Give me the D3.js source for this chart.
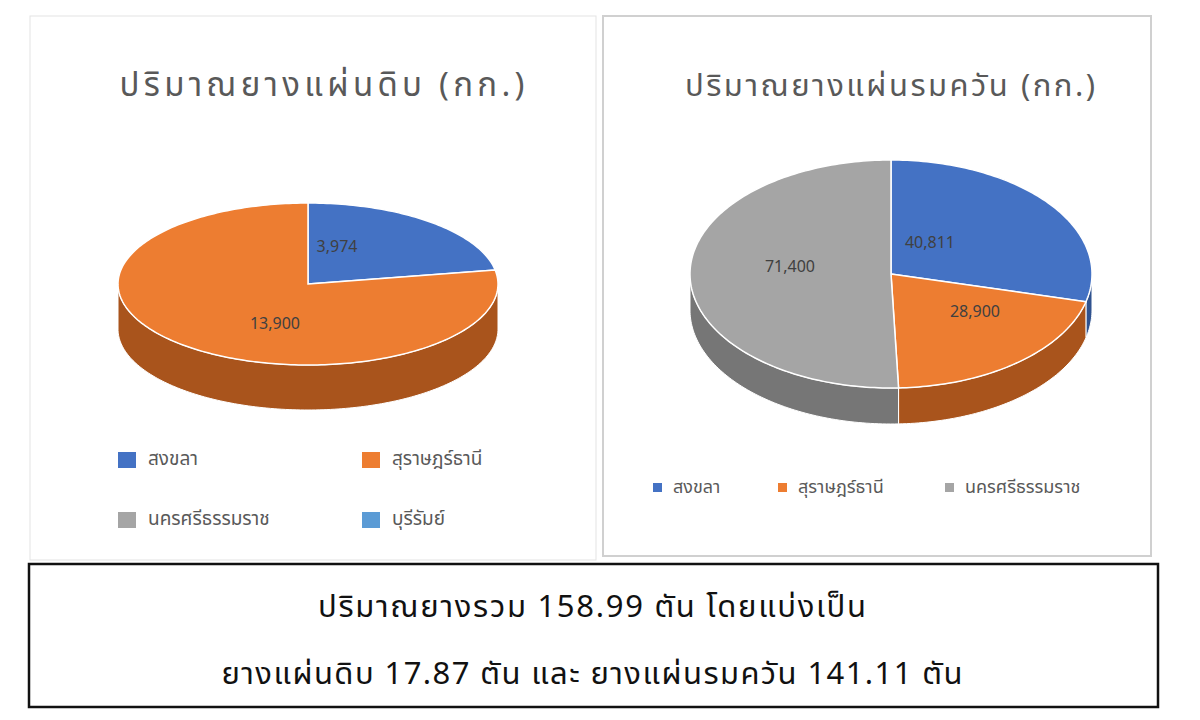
<!DOCTYPE html>
<html><head><meta charset="utf-8">
<script src="https://cdn.jsdelivr.net/npm/d3@7"></script>
<style>body{margin:0;background:#fff}</style></head>
<body><svg id="c" width="1200" height="720"></svg>
<script>
const leftCategories=["สงขลา","สุราษฎร์ธานี"];
const leftValues=[3974,13900];
const leftLegend=["สงขลา","สุราษฎร์ธานี","นครศรีธรรมราช","บุรีรัมย์"];
const rightCategories=["สงขลา","สุราษฎร์ธานี","นครศรีธรรมราช"];
const rightValues=[40811,28900,71400];
const titles=["ปริมาณยางแผ่นดิบ (กก.)","ปริมาณยางแผ่นรมควัน (กก.)"];
const summary=["ปริมาณยางรวม 158.99 ตัน โดยแบ่งเป็น","ยางแผ่นดิบ 17.87 ตัน และ ยางแผ่นรมควัน 141.11 ตัน"];

const colors=["#4472C4","#ED7D31","#A5A5A5","#5B9BD5"];
const sides=["#2F528F","#A9541C","#767676","#41719C"];
const F="'Noto Sans Thai','Noto Sans','Tahoma',sans-serif";
const svg=d3.select("#c");
svg.append("rect").attr("x",30).attr("y",16).attr("width",566).attr("height",544).attr("fill","#fff").attr("stroke","#e3e3e3");
svg.append("rect").attr("x",603).attr("y",16).attr("width",548).attr("height",540).attr("fill","#fff").attr("stroke","#d0d0d0").attr("stroke-width",2);

function pie3d(vals,cx,cy,rx,ry,dep,labels){
  const arcs=d3.pie().sort(null)(vals);
  const g=svg.append("g");
  const pt=(a,dy=0)=>[cx+rx*Math.sin(a),cy-ry*Math.cos(a)+dy];
  const samp=(a0,a1)=>{const n=Math.max(2,Math.ceil((a1-a0)/0.02));return d3.range(n+1).map(i=>a0+(a1-a0)*i/n);};
  arcs.forEach((d,i)=>{
    const a0=Math.max(d.startAngle,Math.PI/2),a1=Math.min(d.endAngle,3*Math.PI/2);
    if(a1<=a0)return;
    const s=samp(a0,a1);
    const p=s.map(a=>pt(a)).concat(s.slice().reverse().map(a=>pt(a,dep)));
    g.append("path").attr("d",d3.line()(p)+"Z").attr("fill",sides[i]).attr("stroke","#fff").attr("stroke-width",1);
  });
  arcs.forEach((d,i)=>{
    const s=samp(d.startAngle,d.endAngle);
    const p=[[cx,cy]].concat(s.map(a=>pt(a)));
    g.append("path").attr("d",d3.line()(p)+"Z").attr("fill",colors[i]).attr("stroke","#fff").attr("stroke-width",1.5);
  });
  arcs.forEach((d,i)=>{
    const l=labels[i];
    g.append("text").attr("x",l[0]).attr("y",l[1]).attr("text-anchor","middle").attr("dominant-baseline","middle")
      .attr("font-family",F).attr("font-size",16).attr("fill","#404040").text(d3.format(",")(d.value));
  });
}
pie3d(leftValues,308,284,190,81,45,[[337,248],[275,325]]);
pie3d(rightValues,891,274,201,114,36,[[930,244],[975,313],[790,268]]);

svg.append("text").attr("x",322).attr("y",96).attr("text-anchor","middle").attr("font-family",F).attr("font-size",33).attr("fill","#595959")
  .attr("textLength",405).attr("lengthAdjust","spacing").text(titles[0]);
svg.append("text").attr("x",890).attr("y",96).attr("text-anchor","middle").attr("font-family",F).attr("font-size",31).attr("fill","#595959")
  .attr("textLength",410).attr("lengthAdjust","spacing").text(titles[1]);

const lpos=[[118,460],[362,460],[118,520],[362,520]];
leftLegend.forEach((t,i)=>{
  svg.append("rect").attr("x",lpos[i][0]).attr("y",lpos[i][1]-8).attr("width",18).attr("height",16).attr("fill",colors[i]);
  svg.append("text").attr("x",lpos[i][0]+30).attr("y",lpos[i][1]).attr("dominant-baseline","middle").attr("font-family",F).attr("font-size",19).attr("fill","#595959").text(t);
});
const rpos=[653,778,945];
rightCategories.forEach((t,i)=>{
  svg.append("rect").attr("x",rpos[i]).attr("y",483).attr("width",9).attr("height",9).attr("fill",colors[i]);
  svg.append("text").attr("x",rpos[i]+20).attr("y",488).attr("dominant-baseline","middle").attr("font-family",F).attr("font-size",18).attr("fill","#595959").text(t);
});

svg.append("rect").attr("x",29).attr("y",564).attr("width",1129).attr("height",143).attr("fill","none").attr("stroke","#111").attr("stroke-width",2.5);
const sumLen=[548,741];
summary.forEach((t,i)=>svg.append("text").attr("x",592).attr("y",608+i*67).attr("text-anchor","middle").attr("dominant-baseline","middle")
  .attr("font-family",F).attr("font-size",31).attr("fill","#111").attr("textLength",sumLen[i]).attr("lengthAdjust","spacing").text(t));
</script></body></html>
